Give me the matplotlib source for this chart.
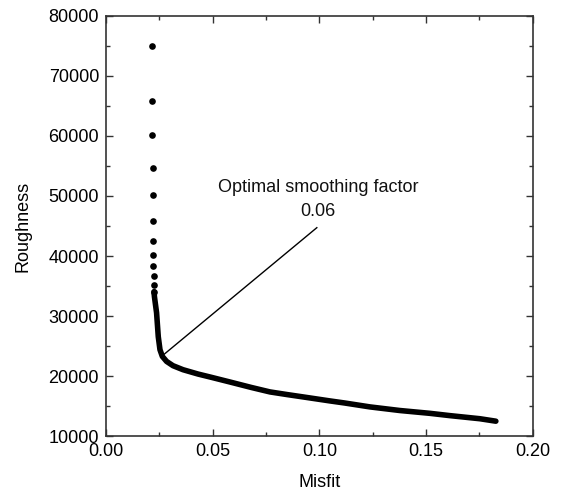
import matplotlib
matplotlib.use("Agg")
import matplotlib.pyplot as plt
from matplotlib.ticker import MultipleLocator

plt.rcParams["font.family"] = ["Liberation Sans", "DejaVu Sans"]
plt.rcParams["font.size"] = 13

# sparse dots at the top of the L-curve (large smoothing factors)
misfit_sparse = [0.0215, 0.0216, 0.0217, 0.0218, 0.0219, 0.0219, 0.0220,
                 0.0221, 0.0222, 0.0223, 0.0224, 0.0225]
rough_sparse = [74930, 65880, 60220, 54670, 50220, 45770, 42550,
                40100, 38270, 36600, 35100, 34050]

# dense part of the curve (dots overlap into a thick line)
misfit_dense = [0.0225, 0.0227, 0.0232, 0.0237, 0.0241, 0.0245, 0.0253, 0.0264,
                0.0284, 0.0314, 0.0361, 0.0431, 0.0495, 0.0581, 0.0680, 0.0768,
                0.0850, 0.0932, 0.1049, 0.1119, 0.1237, 0.1377, 0.1518, 0.1611,
                0.1752, 0.1827]
rough_dense = [34050, 33220, 31880, 30550, 28550, 26550, 24380, 23270,
               22430, 21720, 21050, 20330, 19770, 19000, 18100, 17350,
               16900, 16470, 15850, 15500, 14850, 14250, 13780, 13400,
               12880, 12470]

optimal_pt = (0.0271, 23580)
label_end = (0.0988, 44720)

fig = plt.figure(figsize=(5.62, 4.92), dpi=100)
ax = fig.add_axes([0.1886, 0.1138, 0.7594, 0.8537])

ax.plot(misfit_dense, rough_dense, "-", color="black", lw=4.0,
        solid_capstyle="round", solid_joinstyle="round")
ax.plot(misfit_sparse, rough_sparse, "o", color="black", ms=4.8, mec="none")

ax.plot([optimal_pt[0], label_end[0]], [optimal_pt[1], label_end[1]],
        color="black", lw=1.0)
ax.text(0.0993, 51380, "Optimal smoothing factor", ha="center", va="center",
        color="#111111")
ax.text(0.0993, 47380, "0.06", ha="center", va="center", color="#111111")

ax.set_xlim(0, 0.20)
ax.set_ylim(10000, 80000)
ax.xaxis.set_major_locator(MultipleLocator(0.05))
ax.xaxis.set_minor_locator(MultipleLocator(0.025))
ax.yaxis.set_major_locator(MultipleLocator(10000))
ax.yaxis.set_minor_locator(MultipleLocator(5000))
ax.xaxis.set_major_formatter(matplotlib.ticker.FormatStrFormatter("%.2f"))

ax.tick_params(which="both", direction="in", top=True, right=True,
               color="#333333", width=1.0)
ax.tick_params(which="major", length=5, pad=5)
ax.tick_params(which="minor", length=3)
for s in ax.spines.values():
    s.set_color("#333333")
    s.set_linewidth(1.2)

ax.set_xlabel("Misfit", labelpad=10)
ax.set_ylabel("Roughness", labelpad=12)

fig.savefig("out.png", dpi=100)
